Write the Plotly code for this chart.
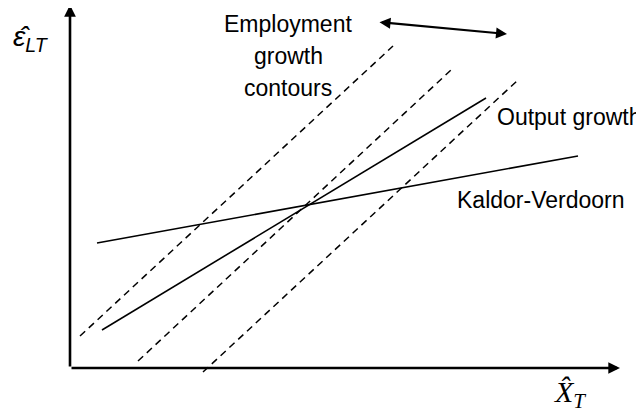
import plotly.graph_objects as go

# Schematic coordinates (origin at the corner of the axes)
kv_x = [27, 508]
kv_y = [125, 212]
out_x = [32, 416]
out_y = [38, 270]
emp1_x = [10, 323]
emp1_y = [32, 322]
emp2_x = [68, 381]
emp2_y = [7, 298]
emp3_x = [133, 448]
emp3_y = [-4, 288]

x_axis_end = 550
y_axis_end = 363

labels = {
    "employment": ["Employment", "growth", "contours"],
    "output": "Output growth",
    "kv": "Kaldor-Verdoorn",
}

fig = go.Figure()
solid = dict(color="black", width=1.6)
dashed = dict(color="black", width=1.5, dash="7px,5px")
for xs, ys, ln in [(kv_x, kv_y, solid), (out_x, out_y, solid),
                   (emp1_x, emp1_y, dashed), (emp2_x, emp2_y, dashed), (emp3_x, emp3_y, dashed)]:
    fig.add_trace(go.Scatter(x=xs, y=ys, mode="lines", line=ln, hoverinfo="skip", showlegend=False))

anns = []
# axes with arrowheads
anns.append(dict(x=x_axis_end, y=0, ax=0, ay=0, axref="x", ayref="y", xref="x", yref="y",
                 showarrow=True, arrowhead=2, arrowwidth=2.6, arrowsize=0.9, arrowcolor="black", text=""))
anns.append(dict(x=0, y=y_axis_end, ax=0, ay=0, axref="x", ayref="y", xref="x", yref="y",
                 showarrow=True, arrowhead=2, arrowwidth=2.6, arrowsize=0.9, arrowcolor="black", text=""))
# double arrow
anns.append(dict(x=437, y=334, ax=308, ay=346, axref="x", ayref="y", xref="x", yref="y",
                 showarrow=True, arrowhead=2, startarrowhead=2, arrowside="end+start",
                 arrowwidth=2.2, arrowsize=1, startarrowsize=1, arrowcolor="black", text=""))

sans = dict(family="Liberation Sans, Arial", size=23, color="black")
for txt, yy in zip(labels["employment"], [344, 312, 280]):
    anns.append(dict(x=218, y=yy, text=txt, showarrow=False, xref="x", yref="y",
                     xanchor="center", yanchor="middle", font=sans))
anns.append(dict(x=425, y=251, text=labels["output"], showarrow=False, xref="x", yref="y",
                 xanchor="left", yanchor="middle", font=sans))
anns.append(dict(x=385, y=168, text=labels["kv"], showarrow=False, xref="x", yref="y",
                 xanchor="left", yanchor="middle", font=sans))
anns.append(dict(x=-39, y=330, text="<i>\u03b5\u0302</i><sub><i>LT</i></sub>", showarrow=False,
                 xref="x", yref="y", xanchor="center", yanchor="middle",
                 font=dict(family="Liberation Sans, Arial", size=28, color="black")))
anns.append(dict(x=500, y=-26, text="<i>X\u0302</i><sub><i>T</i></sub>", showarrow=False,
                 xref="x", yref="y", xanchor="center", yanchor="middle",
                 font=dict(family="Liberation Serif, Times New Roman", size=30, color="black")))

# The page body has an 8px margin, so the ranges are offset to keep the axes corner in place
fig.update_layout(
    width=644, height=415,
    margin=dict(l=0, r=0, t=0, b=0),
    paper_bgcolor="white", plot_bgcolor="white",
    xaxis=dict(range=[-62, 582], visible=False, fixedrange=True),
    yaxis=dict(range=[-55, 360], visible=False, fixedrange=True),
    annotations=anns,
)
fig.write_html("out.html", config={"displayModeBar": False})
